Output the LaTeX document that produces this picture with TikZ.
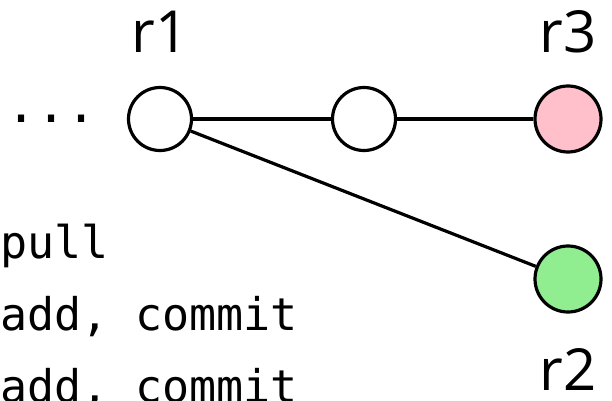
\documentclass[tikz,border=0pt]{standalone}
\usepackage{fontspec}
\setsansfont{Open Sans}
\setmonofont{DejaVu Sans Mono}
\usetikzlibrary{positioning}

\definecolor{headpink}{RGB}{255,192,203}
\definecolor{headgreen}{RGB}{144,238,144}

\begin{document}
\begin{tikzpicture}[x=1pt,y=1pt,line width=3.2pt,
    commit/.style={circle,draw,fill=white,inner sep=0pt,minimum size=63pt},
    tipcommit/.style={commit,minimum size=66pt},
    repo/.style={font=\sffamily\fontsize{58}{64}\selectfont,inner sep=0pt,outer sep=0pt},
    cmd/.style={font=\ttfamily\fontsize{45}{54}\selectfont,inner sep=0pt,outer sep=0pt,anchor=base west}]
        \useasboundingbox (0,0) rectangle (612,400);

        \node[commit] (c1) at (160,281) {};
        \node[commit] (c2) [on grid,right=204pt of c1] {};
        \node[tipcommit,fill=headpink] (c3) [on grid,right=204pt of c2] {};
        \node[tipcommit,fill=headgreen] (c4) [on grid,below=160pt of c3] {};

        \node[font=\ttfamily\fontsize{50}{60}\selectfont,inner sep=0pt,outer sep=0pt] (dots) [left=30pt of c1] {...};

        \node[repo] (r1) [above=33pt of c1] {r1};
        \node[repo] (r3) [above=31.5pt of c3] {r3};
        \node[repo] (r2) [below=35pt of c4] {r2};

        \node[cmd] (pull) at (0,142) {pull};
        \node[cmd] (add1) at (0,70) {add, commit};
        \node[cmd] (add2) at (0,-2) {add, commit};

        \draw(c1) -- (c2);
        \draw(c2) -- (c3);
        \draw(c1) -- (c4);
\end{tikzpicture}
\end{document}
